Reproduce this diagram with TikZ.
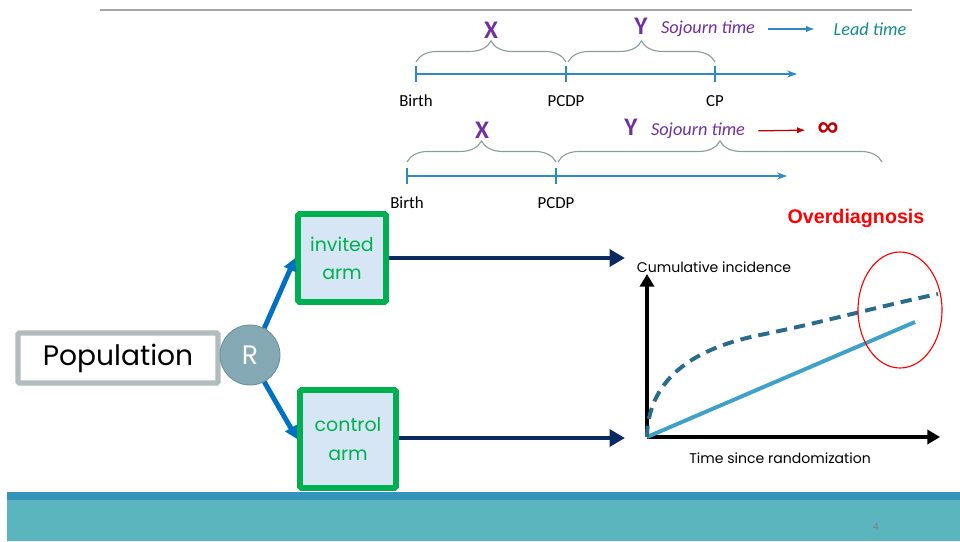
\documentclass[tikz,border=0pt]{standalone}
\usepackage{fontspec}
\setmainfont{Carlito}
\newfontfamily\gothic{Poppins}
\newfontfamily\arialf{Liberation Sans}
\usetikzlibrary{arrows.meta,decorations.pathreplacing}

\definecolor{slideline}{HTML}{A6A6A6}
\definecolor{tlblue}{HTML}{2E8BC0}
\definecolor{bracegray}{HTML}{8C9C9C}
\definecolor{xypurple}{HTML}{7030A0}
\definecolor{leadteal}{HTML}{138C8C}
\definecolor{infred}{HTML}{C00000}
\definecolor{armgreen}{HTML}{00B050}
\definecolor{armfill}{HTML}{D6E6F4}
\definecolor{popgray}{HTML}{B2BCBC}
\definecolor{rfill}{HTML}{84A9B4}
\definecolor{rdraw}{HTML}{6C8F9A}
\definecolor{splitblue}{HTML}{0070C0}
\definecolor{navy}{HTML}{0B2A60}
\definecolor{solidcurve}{HTML}{3FA0C8}
\definecolor{dashcurve}{HTML}{2A6A8A}
\definecolor{footdark}{HTML}{3494BC}
\definecolor{footlight}{HTML}{5AB5BF}

\tikzset{
  tlmark/.style={tlblue, line width=1.8pt},
  tlline/.style={tlblue, line width=1.4pt, -{Stealth[length=7pt,width=5pt]}},
  tllabel/.style={font=\fontsize{12}{14}\selectfont},
  brc/.style={decorate, decoration={brace, amplitude=15pt}, bracegray, line width=0.8pt},
  xy/.style={text=xypurple, font=\fontsize{18}{20}\selectfont\bfseries},
  soj/.style={text=xypurple, font=\fontsize{13}{15}\selectfont\itshape},
  armbox/.style={draw=armgreen, fill=armfill, line width=4pt, rounded corners=1pt,
    text=armgreen, align=center, font=\gothic\fontsize{13.5}{20}\selectfont},
  split/.style={splitblue, line width=3.5pt, -{Triangle[length=9pt,width=9pt]}},
  outarrow/.style={navy, line width=3.5pt, -{Triangle[length=11pt,width=12pt]}},
  axis/.style={black, line width=2.8pt, -{Triangle[length=9pt,width=10pt]}},
}

\begin{document}
\begin{tikzpicture}[x=0.025cm, y=-0.025cm]
\useasboundingbox (0,0) rectangle (960,541);

% slide header line and footer
\draw[slideline, line width=0.8pt] (100,10) -- (912,10);
\fill[footdark] (7,492) rectangle (960,500);
\fill[footlight] (7,500) rectangle (960,541);
\node[text=gray, font=\fontsize{8}{9}\selectfont] (pagenum) at (876,527) {4};

% upper time line: detected case
\draw[tlline] (416,74) -- (797,74);
\foreach \x/\lab in {416/Birth,566/PCDP,715/CP} {
  \draw[tlmark] (\x,66) -- (\x,82);
  \node[tllabel] (up-\lab) at (\x,101) {\lab};
}
\draw[brc] (416,62) -- (566,62);
\draw[brc] (568,62) -- (715,62);
\node[xy] (xup) at (491,30) {X};
\node[xy] (yup) at (641,26) {Y};
\node[soj] (sojup) at (708,29) {Sojourn time};
\node[text=leadteal, font=\fontsize{13}{15}\selectfont\itshape] (leadup) at (870,29) {Lead time};
\draw[tlblue, line width=0.9pt, -{Latex[length=6pt]}, shorten <=6pt, shorten >=10pt] (sojup.east) -- (leadup.west);

% lower time line: never surfacing case
\draw[tlline] (407,176) -- (787,176);
\foreach \x/\lab in {407/Birth,556/PCDP} {
  \draw[tlmark] (\x,168) -- (\x,184);
  \node[tllabel] (low-\lab) at (\x,203) {\lab};
}
\draw[brc] (407,162) -- (556,162);
\draw[brc] (558,162) -- (882,162);
\node[xy] (xlow) at (482,130) {X};
\node[xy] (ylow) at (631,127) {Y};
\node[soj] (sojlow) at (698,131) {Sojourn time};
\node[text=infred, font=\arialf\fontsize{21}{22}\selectfont\bfseries\itshape] (inf) at (828,130) {∞};
\draw[infred, line width=0.9pt, -{Latex[length=6pt]}, shorten <=6pt, shorten >=5pt] (sojlow.east) -- (inf.west);

% trial scheme
\node[draw=popgray, line width=3.8pt, rounded corners=1pt, minimum width=5cm, minimum height=1.25cm,
  font=\gothic\fontsize{20}{24}\selectfont] (pop) at (118,358) {Population};
\node[circle, draw=rdraw, fill=rfill, line width=0.6pt, minimum size=1.5cm, inner sep=0pt,
  text=white, font=\gothic\fontsize{19}{22}\selectfont] (R) at (250,355) {R};
\node[armbox, minimum width=2.2cm, minimum height=2.2cm] (invited) at (342,258) {invited\\arm};
\node[armbox, minimum width=2.4cm, minimum height=2.45cm] (control) at (348,439) {control\\arm};
\draw[split] (R.62) -- (invited.west);
\draw[split] (R.-62) -- (control.west);

\coordinate (invend) at (625,258);
\coordinate (ctrlend) at (625,438);
\draw[outarrow] (invited.east) -- (invend);
\draw[outarrow] (control.east |- ctrlend) -- (ctrlend);

% cumulative incidence plot
\coordinate (o) at (647,437);
\draw[axis] (o) -- (647,274);
\draw[axis] (o) -- (940,437);
\node[font=\gothic\fontsize{10}{12}\selectfont] (cumlab) at (714,267) {Cumulative incidence};
\node[font=\gothic\fontsize{10}{12}\selectfont] (timelab) at (780,458) {Time since randomization};
\draw[solidcurve, line width=2.8pt] (o) -- (915,322);
\draw[dashcurve, line width=2.8pt, dash pattern=on 8pt off 5pt]
  (o) .. controls (648,375) and (700,347) .. (760,335) .. controls (820,323) and (880,306) .. (938,294);
\draw[red, line width=0.8pt] (900,310) ellipse [x radius=42, y radius=58];
\node[text=red, font=\arialf\fontsize{14}{16}\selectfont\bfseries] (overdiag) at (856,218) {Overdiagnosis};

\end{tikzpicture}
\end{document}
